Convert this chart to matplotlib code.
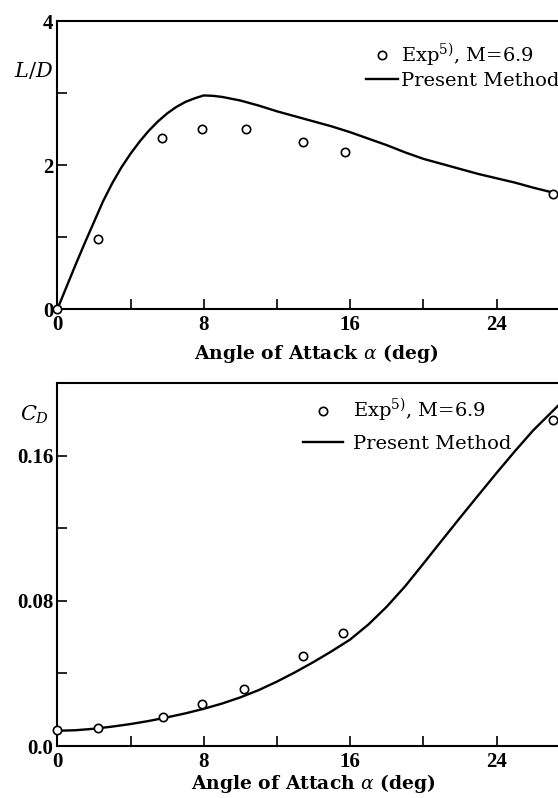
import matplotlib
matplotlib.use("Agg")
import matplotlib.pyplot as plt
from matplotlib.lines import Line2D

# ---- experimental data (M = 6.9) ----
alpha_ld_exp = [0.0, 2.2, 5.7, 7.9, 10.3, 13.4, 15.7, 27.1]
ld_exp = [0.0, 0.98, 2.38, 2.51, 2.51, 2.33, 2.18, 1.60]

alpha_cd_exp = [0.0, 2.2, 5.8, 7.9, 10.2, 13.4, 15.6, 27.1]
cd_exp = [0.0088, 0.0098, 0.0160, 0.0232, 0.0316, 0.0498, 0.0624, 0.180]

# ---- present method ----
alpha_ld_calc = [0, 0.5, 1, 1.5, 2, 2.5, 3, 3.5, 4, 4.5, 5, 5.5, 6, 6.5, 7, 7.5,
                 8, 8.5, 9, 10, 11, 12, 13, 14, 15, 16, 17, 18, 19, 20, 21, 22,
                 23, 24, 25, 26, 27.1]
ld_calc = [0.0, 0.31, 0.62, 0.92, 1.21, 1.50, 1.75, 1.97, 2.16, 2.33, 2.48, 2.61,
           2.72, 2.81, 2.88, 2.93, 2.97, 2.965, 2.95, 2.90, 2.83, 2.75, 2.68, 2.61,
           2.54, 2.46, 2.37, 2.28, 2.18, 2.09, 2.02, 1.95, 1.88, 1.82, 1.76, 1.69,
           1.62]

alpha_cd_calc = [0, 1, 2, 3, 4, 5, 6, 7, 8, 9, 10, 11, 12, 13, 14, 15, 16, 17, 18,
                 19, 20, 21, 22, 23, 24, 25, 26, 27, 27.4]
cd_calc = [0.0084, 0.0087, 0.0095, 0.0107, 0.0121, 0.0138, 0.0158, 0.0180, 0.0205,
           0.0234, 0.0268, 0.0308, 0.0355, 0.0407, 0.0463, 0.0523, 0.0587, 0.0670,
           0.0768, 0.0880, 0.1005, 0.1132, 0.1258, 0.1382, 0.1505, 0.1625, 0.1740,
           0.1840, 0.1880]

# ---- axis ticks ----
x_ticks = [0, 4, 8, 12, 16, 20, 24, 28]
x_tick_labels = ["0", "", "8", "", "16", "", "24", ""]
ld_ticks = [0, 1, 2, 3, 4]
ld_tick_labels = ["0", "", "2", "", "4"]
cd_ticks = [0.0, 0.04, 0.08, 0.12, 0.16, 0.20]
cd_tick_labels = ["0.0", "", "0.08", "", "0.16", ""]

exp_label = "Exp$^{5)}$, M=6.9"
calc_label = "Present Method"

plt.rcParams["mathtext.fontset"] = "dejavuserif"

W, H = 558, 798
fig = plt.figure(figsize=(W / 100, H / 100), dpi=100)

def px_axes(left, top, right, bottom):
    return fig.add_axes([left / W, 1 - bottom / H, (right - left) / W, (bottom - top) / H])

ax1 = px_axes(57.3, 21.3, 558, 309.3)
ax2 = px_axes(57.3, 383.3, 558, 746)

tick_font = dict(family="Liberation Serif", weight="bold", size=15)
label_font = dict(family="DejaVu Serif", weight="bold", size=13.5)
legend_font = dict(family="DejaVu Serif", size=14)

for ax in (ax1, ax2):
    ax.spines["right"].set_visible(False)
    for s in ("left", "bottom", "top"):
        ax.spines[s].set_linewidth(1.5)
    ax.set_xticks(x_ticks)
    ax.set_xticklabels(x_tick_labels, fontdict=tick_font)
    ax.set_xlim(0, 27.36)
    ax.tick_params(direction="in", length=7, width=1.2, pad=3)
    ax.tick_params(axis="x", pad=4)

# L/D
ax1.plot(alpha_ld_calc, ld_calc, color="black", lw=1.7)
ax1.plot(alpha_ld_exp, ld_exp, ls="none", marker="o", ms=6, mfc="white",
         mec="black", mew=1.2, clip_on=False, zorder=5)
ax1.set_yticks(ld_ticks)
ax1.set_yticklabels(ld_tick_labels, fontdict=tick_font)
ax1.set_ylim(0, 4)
ax1.set_xlabel(r"Angle of Attack $\alpha$ (deg)", fontdict=label_font)
ax1.xaxis.set_label_coords(0.516, -0.115)
ax1.text(-0.008, 0.83, "$L/D$", transform=ax1.transAxes, ha="right", va="center",
         fontsize=15, family="DejaVu Serif")

# C_D
ax2.plot(alpha_cd_calc, cd_calc, color="black", lw=1.7)
ax2.plot(alpha_cd_exp, cd_exp, ls="none", marker="o", ms=6, mfc="white",
         mec="black", mew=1.2, clip_on=False, zorder=5)
ax2.set_yticks(cd_ticks)
ax2.set_yticklabels(cd_tick_labels, fontdict=tick_font)
ax2.set_ylim(0, 0.2)
ax2.set_xlabel(r"Angle of Attach $\alpha$ (deg)", fontdict=label_font)
ax2.xaxis.set_label_coords(0.512, -0.072)
ax2.text(-0.016, 0.913, "$C_D$", transform=ax2.transAxes, ha="right", va="center",
         fontsize=15, family="DejaVu Serif")

handles = [
    Line2D([], [], ls="none", marker="o", ms=6, mfc="white", mec="black", mew=1.2),
    Line2D([], [], color="black", lw=1.7),
]

ax1.legend(handles, [exp_label, calc_label], loc="upper left",
           bbox_to_anchor=(0.6165, 0.93), frameon=False, prop=legend_font,
           handlelength=1.65, handletextpad=0.15, labelspacing=0.18,
           borderpad=0, borderaxespad=0)
ax2.legend(handles, [exp_label, calc_label], loc="upper left",
           bbox_to_anchor=(0.491, 0.962), frameon=False, prop=legend_font,
           handlelength=2.05, handletextpad=0.5, labelspacing=0.55,
           borderpad=0, borderaxespad=0)

fig.savefig("out.png", dpi=100)
